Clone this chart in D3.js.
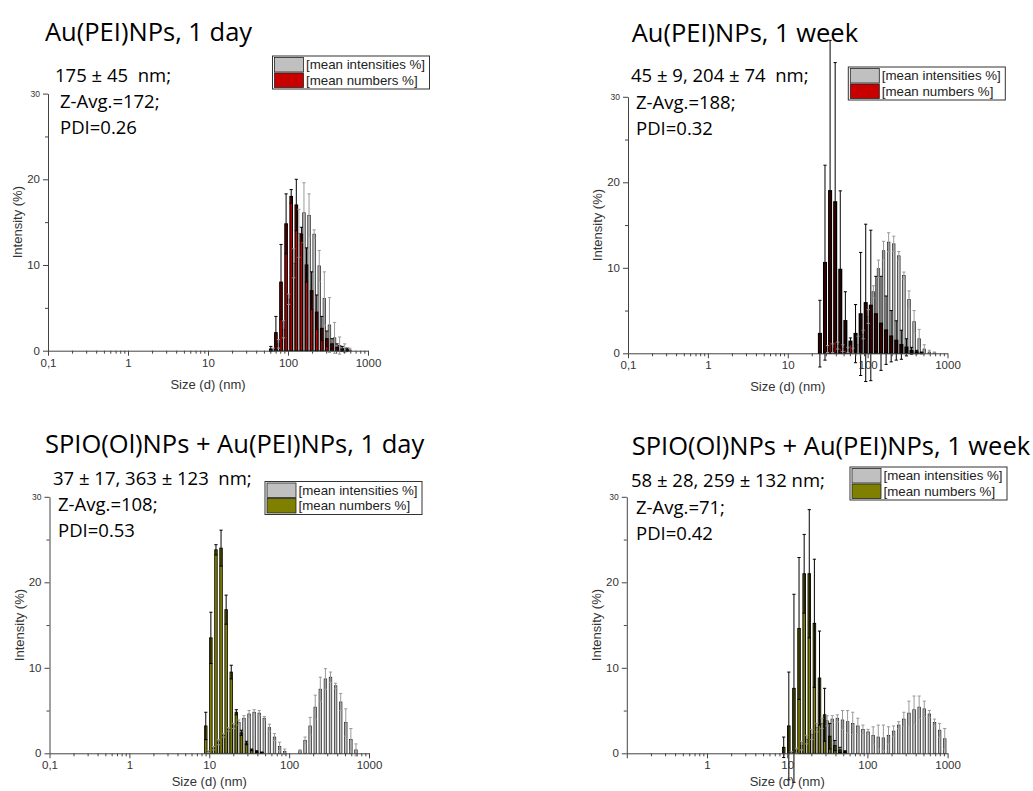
<!DOCTYPE html>
<html><head><meta charset="utf-8">
<script src="https://cdn.jsdelivr.net/npm/d3@7"></script>
<style>body{margin:0;background:#fff}</style>
</head><body>
<svg id="c" width="1033" height="791"></svg>
<script>
// Standard DLS size bins (lower edges, nm); last value is only an upper edge
const sizes = [8.721, 10.1, 11.7, 13.54, 15.69, 18.17, 21.04, 24.36, 28.21, 32.67, 37.84, 43.82, 50.75, 58.77, 68.06, 78.82, 91.28, 105.7, 122.4, 141.8, 164.2, 190.1, 220.2, 255.0, 295.3, 342.0, 396.1, 458.7, 531.2, 615.1, 712.4, 825.0, 955.4, 1106];

const xTickValues = [0.1, 1, 10, 100, 1000];
const xTickLabels = ["0,1", "1", "10", "100", "1000"];
const yTickValues = [0, 10, 20, 30];
const legendLabels = ["[mean intensities %]", "[mean numbers %]"];
const xTitle = "Size (d) (nm)";
const yTitle = "Intensity (%)";

const titles = ["Au(PEI)NPs, 1 day", "Au(PEI)NPs, 1 week", "SPIO(Ol)NPs + Au(PEI)NPs, 1 day", "SPIO(Ol)NPs + Au(PEI)NPs, 1 week"];
const annotations = [
  ["175 ± 45  nm;", "Z-Avg.=172;", "PDI=0.26"],
  ["45 ± 9, 204 ± 74  nm;", "Z-Avg.=188;", "PDI=0.32"],
  ["37 ± 17, 363 ± 123  nm;", "Z-Avg.=108;", "PDI=0.53"],
  ["58 ± 28, 259 ± 132 nm;", "Z-Avg.=71;", "PDI=0.42"]
];

// Panel 1: Au(PEI)NPs, 1 day
const p1Num    = [0,0,0,0,0,0,0,0,0,0,0,0,0, 0.2,2.1,8.0,14.8,18.0,17.0,13.6,10.0,7.0,4.5,2.6,1.4,0.8,0.4,0.2,0.1, 0,0,0,0];
const p1NumErr = [0,0,0,0,0,0,0,0,0,0,0,0,0, 0.3,1.9,4.4,3.5,0.8,3.0,0.8,2.0,2.2,2.0,1.4,0.9,0.6,0.4,0.3,0.2, 0,0,0,0];
const p1Int    = [0,0,0,0,0,0,0,0,0,0,0,0,0, 0.1,0.8,2.5,6.0,10.2,13.7,16.1,15.8,13.6,9.9,6.1,3.0,1.5,0.6,0.3,0.1, 0,0,0,0];
const p1IntErr = [0,0,0,0,0,0,0,0,0,0,0,0,0, 0.2,0.5,1.0,0.6,1.7,2.8,3.5,2.5,0.5,1.8,3.1,3.2,1.8,1.0,0.5,0.2, 0,0,0,0];

// Panel 2: Au(PEI)NPs, 1 week
const p2Num    = [0,0,0,0,0,0,0, 2.3,10.6,19.0,17.7,9.8,3.8,1.4,2.3,4.6,5.9,5.6,4.6,3.5,2.7,2.0,1.5,1.0,0.7,0.3,0.15,0.05, 0,0,0,0,0];
const p2NumErr = [0,0,0,0,0,0,0, 3.9,11.4,17.6,16.3,9.2,3.4,0.4,3.4,7.2,9.2,8.8,4.4,5.5,4.0,3.0,2.3,1.7,1.0,0.4,0.2,0.1, 0,0,0,0,0];
const p2Int    = [0,0,0,0,0,0,0,0, 0.5,0.6,0.9,0.6,0.4,0.3,1.0,2.2,4.3,7.2,9.9,12.0,13.0,12.8,11.4,9.1,6.3,3.7,1.7,0.5,0.15,0.05, 0,0,0];
const p2IntErr = [0,0,0,0,0,0,0,0, 0.4,0.5,0.4,0.4,0.3,0.3,1.0,0.5,0.8,0.7,1.0,1.1,1.1,0.9,0.5,0.4,1.0,1.3,1.1,0.5,0.2,0.1, 0,0,0];

// Panel 3: SPIO(Ol)NPs + Au(PEI)NPs, 1 day
const p3Num    = [3.2,13.5,23.8,24.0,16.8,9.5,4.8,2.4,1.2,0.4,0.2,0.1, 0,0,0,0,0,0,0,0,0,0,0,0,0,0,0,0,0,0,0,0,0];
const p3NumErr = [1.6,3.0,0.6,2.1,1.7,0.8,0.3,0.3,0.2,0.1,0.1,0.05, 0,0,0,0,0,0,0,0,0,0,0,0,0,0,0,0,0,0,0,0,0];
const p3Int    = [0.2,0.6,1.3,2.1,2.8,3.2,3.6,4.1,4.6,4.8,4.7,4.1,3.0,1.9,0.8,0.2,0,0,0.3,1.5,3.2,5.4,7.5,8.7,8.9,7.9,6.0,3.6,1.6,0.4,0,0,0];
const p3IntErr = [0.1,0.2,0.3,0.2,0.2,0.3,0.3,0.3,0.4,0.3,0.3,0.2,0.4,0.4,0.5,0.3,0,0,0.1,0.4,1.0,1.4,1.4,1.2,0.6,0.3,1.0,1.6,1.3,0.7,0,0,0];

// Panel 4: SPIO(Ol)NPs + Au(PEI)NPs, 1 week
const p4Num    = [0.7,3.2,7.6,14.6,21.0,21.0,15.2,8.8,4.5,2.0,0.9,0.4,0.2, 0,0,0,0,0,0,0,0,0,0,0,0,0,0,0,0,0,0,0,0];
const p4NumErr = [1.2,6.3,11.0,8.3,4.6,7.5,7.5,5.5,3.1,1.5,0.6,0.3,0.1, 0,0,0,0,0,0,0,0,0,0,0,0,0,0,0,0,0,0,0,0];
const p4Int    = [0,0.1,0.3,0.9,1.6,2.2,3.0,3.5,3.8,4.0,4.1,3.9,3.7,3.5,3.2,2.8,2.5,2.1,1.9,1.8,2.1,2.6,3.3,4.0,4.7,5.1,5.4,5.2,4.6,3.6,2.7,1.7,0];
const p4IntErr = [0,0.1,0.3,0.5,0.5,0.6,0.5,0.6,0.6,0.4,0.4,1.1,1.3,1.3,0.9,0.5,0.3,1.0,1.4,1.5,1.0,0.6,0.4,0.8,1.4,1.6,1.3,0.9,0.4,0.4,0.8,1.2,0];

const numberColors = ["#c80000", "#c80000", "#7f7f00", "#7f7f00"];
const intensityColor = "#c0c0c0";

const layout = [
  {xr:[48,368],    yr:[350.7,93.6],  title:[45,41],    lines:[[55,81.5],[60,108],[60,134]],       legend:[272.5,56], zeroLabel:true,  numStroke:1.1},
  {xr:[628,947.5], yr:[353.3,96.8],  title:[631.7,41.7], lines:[[631,81.7],[636,109],[636,135]], legend:[848.3,67], zeroLabel:true, numStroke:1.5},
  {xr:[49.5,369],  yr:[753.3,496.8], title:[45,452.5], lines:[[53,485],[58,511],[58,537]],    legend:[265,481.5], zeroLabel:true, numStroke:0.8},
  {xr:[626.8,947.6], yr:[753.3,496.8], title:[631.7,455], lines:[[631,487],[636,514],[636,540]], legend:[850,467], zeroLabel:false, numStroke:0.9}
];

const series = [
  [p1Num, p1NumErr, p1Int, p1IntErr],
  [p2Num, p2NumErr, p2Int, p2IntErr],
  [p3Num, p3NumErr, p3Int, p3IntErr],
  [p4Num, p4NumErr, p4Int, p4IntErr]
];

const svg = d3.select("#c");
svg.append("rect").attr("width", 1033).attr("height", 791).attr("fill", "#fff");

const axisFont = "'Liberation Sans', Arial, sans-serif";
const textFont = "'Open Sans', 'Noto Sans', sans-serif";

function drawPanel(k) {
  const L = layout[k];
  const [num, numErr, inten, intenErr] = series[k];
  const color = numberColors[k];
  const g = svg.append("g");
  const x = d3.scaleLog().domain([0.1, 1000]).range(L.xr);
  const y = d3.scaleLinear().domain([0, 30]).range(L.yr);

  const bins = d3.range(sizes.length - 1).map(i => ({
    lo: sizes[i], hi: sizes[i + 1], n: num[i], ne: numErr[i], v: inten[i], ve: intenErr[i]
  }));
  const left = d => x(d.lo);
  const mid = d => (x(d.lo) + x(d.hi)) / 2;
  const half = d => (x(d.hi) - x(d.lo)) / 2;

  // intensity bars
  g.append("g").selectAll("rect").data(bins.filter(d => d.v > 0)).join("rect")
    .attr("x", d => mid(d)).attr("width", d => half(d))
    .attr("y", d => y(d.v)).attr("height", d => y(0) - y(d.v))
    .attr("fill", intensityColor).attr("stroke", "#1a1a1a").attr("stroke-width", 0.7);
  // number bars
  g.append("g").selectAll("rect").data(bins.filter(d => d.n > 0)).join("rect")
    .attr("x", d => left(d)).attr("width", d => half(d))
    .attr("y", d => y(d.n)).attr("height", d => y(0) - y(d.n))
    .attr("fill", color).attr("stroke", "#000").attr("stroke-width", L.numStroke);

  function errBars(data, cxf, vf, ef, col) {
    const eg = g.append("g").attr("stroke", col).attr("stroke-width", 1).attr("fill", "none");
    const dd = data.filter(d => ef(d) > 0);
    eg.selectAll("line.v").data(dd).join("line").attr("class", "v")
      .attr("x1", cxf).attr("x2", cxf)
      .attr("y1", d => y(vf(d) - ef(d))).attr("y2", d => y(vf(d) + ef(d)));
    eg.selectAll("line.t").data(dd).join("line").attr("class", "t")
      .attr("x1", d => cxf(d) - 1.6).attr("x2", d => cxf(d) + 1.6)
      .attr("y1", d => y(vf(d) + ef(d))).attr("y2", d => y(vf(d) + ef(d)));
    eg.selectAll("line.b").data(dd).join("line").attr("class", "b")
      .attr("x1", d => cxf(d) - 1.6).attr("x2", d => cxf(d) + 1.6)
      .attr("y1", d => y(vf(d) - ef(d))).attr("y2", d => y(vf(d) - ef(d)));
  }
  errBars(bins, d => left(d) + half(d) / 2, d => d.n, d => d.ne, "#000");
  errBars(bins, d => mid(d) + half(d) / 2, d => d.v, d => d.ve, "#9a9a9a");

  // axes
  const axCol = "#444";
  const yAx = g.append("g").attr("transform", `translate(${L.xr[0]},0)`)
    .call(d3.axisLeft(y).tickValues(yTickValues).tickSize(5).tickPadding(3).tickSizeOuter(0).tickFormat(d3.format("d")));
  g.append("g").attr("transform", `translate(${L.xr[0]},0)`)
    .call(d3.axisLeft(y).tickValues([5, 15, 25]).tickSize(3).tickFormat(""))
    .call(s => s.select(".domain").remove());
  g.append("g").attr("transform", `translate(0,${L.yr[0]})`)
    .call(d3.axisBottom(x).tickValues(xTickValues).tickSize(5).tickPadding(3).tickSizeOuter(0)
      .tickFormat((d, i) => (i === 0 && !L.zeroLabel) ? "" : xTickLabels[i]));
  const minor = [];
  [-1, 0, 1, 2].forEach(e => { for (let m = 2; m <= 9; m++) minor.push(m * Math.pow(10, e)); });
  g.append("g").attr("transform", `translate(0,${L.yr[0]})`)
    .call(d3.axisBottom(x).tickValues(minor).tickSize(3).tickFormat(""))
    .call(s => s.select(".domain").remove());
  g.selectAll(".domain, .tick line").attr("stroke", axCol);
  g.selectAll(".tick text").attr("fill", "#333").style("font-family", axisFont).style("font-size", "11.5px");
  yAx.selectAll(".tick text").filter(d => d === 30).style("font-size", "8.5px");

  // axis titles
  g.append("text").attr("transform", `translate(${L.xr[0] - 26},${(L.yr[0] + L.yr[1]) / 2}) rotate(-90)`)
    .attr("text-anchor", "middle").attr("fill", "#333")
    .style("font-family", axisFont).style("font-size", "13px").text(yTitle);
  g.append("text").attr("x", (L.xr[0] + L.xr[1]) / 2).attr("y", Math.min(L.yr[0] + 38, 786))
    .attr("text-anchor", "middle").attr("fill", "#333")
    .style("font-family", axisFont).style("font-size", "13px").text(xTitle);

  // title and annotations
  g.append("text").attr("x", L.title[0]).attr("y", L.title[1])
    .style("font-family", textFont).style("font-size", "25.5px").attr("fill", "#000").text(titles[k]);
  annotations[k].forEach((t, i) => {
    g.append("text").attr("x", L.lines[i][0]).attr("y", L.lines[i][1])
      .style("font-family", textFont).style("font-size", "18.5px").style("white-space", "pre")
      .attr("fill", "#000").text(t);
  });

  // legend
  const [lx, ly] = L.legend;
  const lg = g.append("g");
  lg.append("rect").attr("x", lx).attr("y", ly).attr("width", 157).attr("height", 33)
    .attr("fill", "#fff").attr("stroke", "#333").attr("stroke-width", 1);
  [intensityColor, color].forEach((c, i) => {
    lg.append("rect").attr("x", lx + 2).attr("y", ly + 1.5 + i * 15.5).attr("width", 29).attr("height", 14.5)
      .attr("fill", c).attr("stroke", "#222").attr("stroke-width", 0.8);
    lg.append("text").attr("x", lx + 33.5).attr("y", ly + 13 + i * 15.5)
      .style("font-family", axisFont).style("font-size", "13.3px").attr("fill", "#222").text(legendLabels[i]);
  });
}

[0, 1, 2, 3].forEach(drawPanel);
</script>
</body></html>
